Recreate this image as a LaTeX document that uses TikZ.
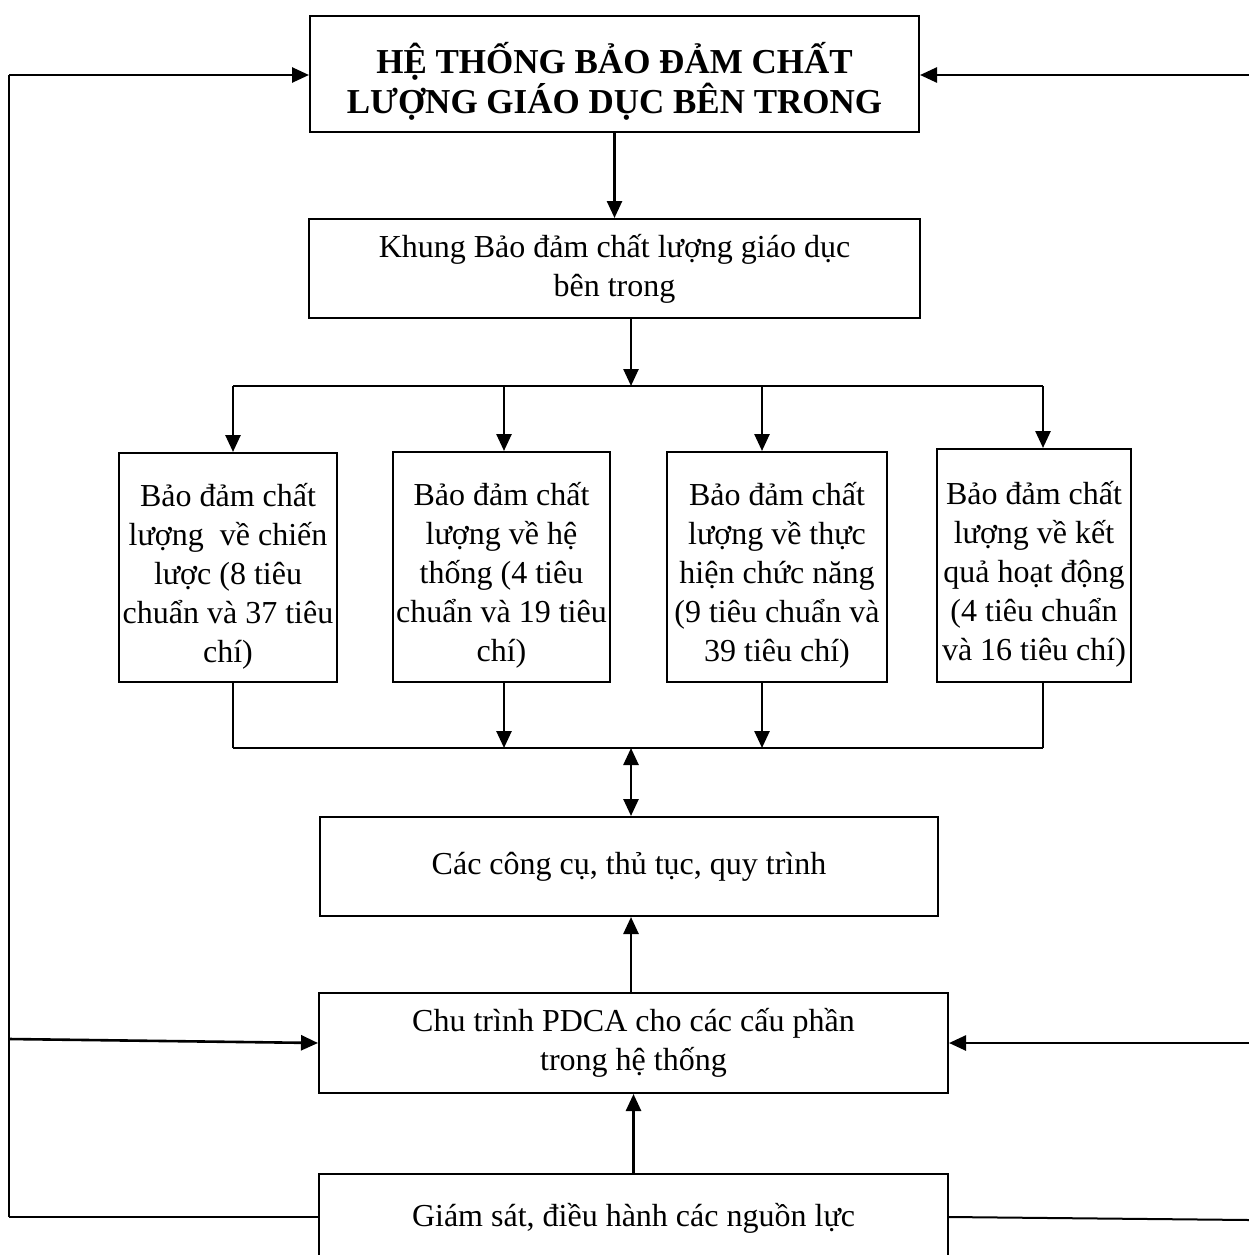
\documentclass[tikz,border=0pt]{standalone}
\usepackage{fontspec}
\setmainfont{Liberation Serif}
\usetikzlibrary{arrows.meta}
\begin{document}
\begin{tikzpicture}[x=1pt,y=-1pt,
  box/.style={draw,line width=2pt,align=center,inner sep=2pt,
    font=\fontsize{32}{39}\selectfont},
  conn/.style={line width=2.6pt},
  arr/.style={line width=2.6pt,-{Triangle[length=17pt,width=15pt]}},
  darr/.style={line width=2.6pt,{Triangle[length=17pt,width=15pt]}-{Triangle[length=17pt,width=15pt]}},
  thinconn/.style={line width=2pt}
]
\useasboundingbox (0,0) rectangle (1249,1255);
% boxes
\node[box,minimum width=609pt,minimum height=116pt,font=\bfseries\fontsize{35}{40}\selectfont] (top) at (614.5,74) {\rule{0pt}{45pt}HỆ THỐNG BẢO ĐẢM CHẤT\\LƯỢNG GIÁO DỤC BÊN TRONG};
\node[box,minimum width=611pt,minimum height=99pt] (khung) at (614.5,268.5) {Khung Bảo đảm chất lượng giáo dục\\bên trong};
\node[box,minimum width=218pt,minimum height=229pt] (b1) at (228,567.5) {\rule{0pt}{40pt}Bảo đảm chất\\lượng\ \ về chiến\\lược (8 tiêu\\chuẩn và 37 tiêu\\chí)};
\node[box,minimum width=217pt,minimum height=230pt] (b2) at (501.5,567) {\rule{0pt}{40pt}Bảo đảm chất\\lượng về hệ\\thống (4 tiêu\\chuẩn và 19 tiêu\\chí)};
\node[box,minimum width=220pt,minimum height=230pt] (b3) at (777,567) {\rule{0pt}{40pt}Bảo đảm chất\\lượng về thực\\hiện chức năng\\(9 tiêu chuẩn và\\39 tiêu chí)};
\node[box,minimum width=194pt,minimum height=233pt] (b4) at (1034,565.5) {\rule{0pt}{40pt}Bảo đảm chất\\lượng về kết\\quả hoạt động\\(4 tiêu chuẩn\\và 16 tiêu chí)};
\node[box,minimum width=618pt,minimum height=99pt] (tools) at (629,866.5) {Các công cụ, thủ tục, quy trình};
\node[box,minimum width=629pt,minimum height=100pt] (pdca) at (633.5,1043) {Chu trình PDCA cho các cấu phần\\trong hệ thống};
\node[box,minimum width=629pt,minimum height=88pt] (gs) at (633.5,1218) {Giám sát, điều hành các nguồn lực};
% coordinates
\coordinate (k) at (631,386);
\coordinate (c1) at (233,386);
\coordinate (c2) at (504,386);
\coordinate (c3) at (762,386);
\coordinate (c4) at (1043,386);
\coordinate (d1) at (233,748);
\coordinate (d2) at (504,748);
\coordinate (d3) at (762,748);
\coordinate (d4) at (1043,748);
\coordinate (m) at (631,748);
\coordinate (L1) at (9,75);
\coordinate (L2) at (9,1039);
\coordinate (L3) at (9,1217);
\coordinate (R1) at (1249,75);
\coordinate (R2) at (1249,1043);
\coordinate (R3) at (1249,1220);
% top part
\draw[arr] (top.south) -- (khung.north);
\draw[arr] (khung.south -| k) -- (k);
\draw[conn] (c1) -- (c4);
\draw[arr] (c1) -- (b1.north -| c1);
\draw[arr] (c2) -- (b2.north -| c2);
\draw[arr] (c3) -- (b3.north -| c3);
\draw[arr] (c4) -- (b4.north -| c4);
% lower bus
\draw[thinconn] (b1.south -| d1) -- (d1);
\draw[arr] (b2.south -| d2) -- (d2);
\draw[arr] (b3.south -| d3) -- (d3);
\draw[thinconn] (b4.south -| d4) -- (d4);
\draw[conn] (d1) -- (d4);
\draw[darr] (m) -- (tools.north -| m);
\draw[arr] (pdca.north -| m) -- (tools.south -| m);
\draw[arr] (gs.north) -- (pdca.south);
% side loops
\draw[thinconn] (L3) -- (L1);
\draw[arr] (L1) -- (top.west |- L1);
\draw[arr] (L2) -- (pdca.west);
\draw[thinconn] (L3) -- (gs.west |- L3);
\draw[arr] (R1) -- (top.east |- R1);
\draw[arr] (R2) -- (pdca.east);
\draw[thinconn] (gs.east |- L3) -- (R3);
\end{tikzpicture}
\end{document}
